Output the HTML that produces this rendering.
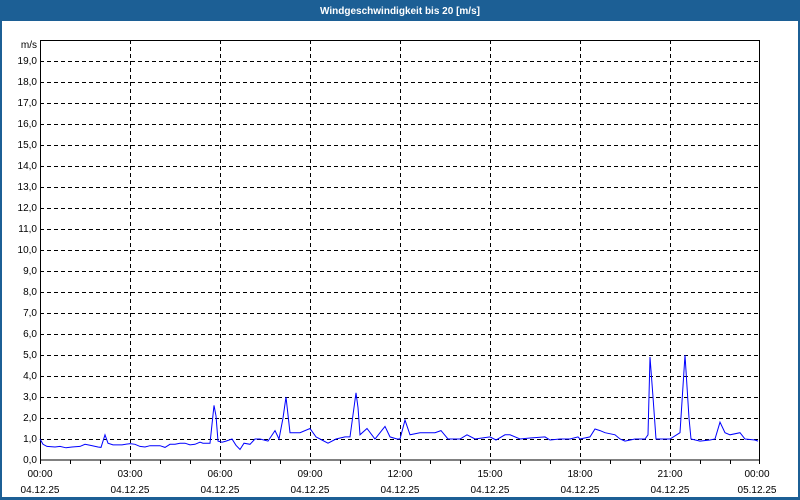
<!DOCTYPE html>
<html><head><meta charset="utf-8"><style>
html,body{margin:0;padding:0;width:800px;height:500px;overflow:hidden;background:#fff;font-family:"Liberation Sans",sans-serif;}
</style></head><body>
<svg width="800" height="500" xmlns="http://www.w3.org/2000/svg" font-family="Liberation Sans, sans-serif" font-size="10">
<rect x="0" y="0" width="800" height="500" fill="#fff"/>
<rect x="0" y="0" width="800" height="21" fill="#1c5f95"/>
<rect x="0" y="0" width="2" height="500" fill="#1c5f95"/>
<rect x="798" y="0" width="2" height="500" fill="#1c5f95"/>
<rect x="0" y="497" width="800" height="3" fill="#1c5f95"/>
<text x="400" y="14" fill="#fff" font-weight="bold" text-anchor="middle" font-size="10">Windgeschwindigkeit bis 20 [m/s]</text>
<g stroke="#000" stroke-width="1" stroke-dasharray="4,3" fill="none">
<path d="M40 439.5H760M40 418.5H760M40 397.5H760M40 376.5H760M40 355.5H760M40 334.5H760M40 313.5H760M40 292.5H760M40 271.5H760M40 250.5H760M40 229.5H760M40 208.5H760M40 187.5H760M40 166.5H760M40 145.5H760M40 124.5H760M40 103.5H760M40 82.5H760M40 61.5H760"/>
<path d="M130.5 40V460M220.5 40V460M310.5 40V460M400.5 40V460M490.5 40V460M580.5 40V460M670.5 40V460"/>
</g>
<rect x="40.5" y="40.5" width="719" height="419.5" fill="none" stroke="#000"/>
<g stroke="#000"><path d="M40.5 460V464M70.5 460V464M100.5 460V464M130.5 460V464M160.5 460V464M190.5 460V464M220.5 460V464M250.5 460V464M280.5 460V464M310.5 460V464M340.5 460V464M370.5 460V464M400.5 460V464M430.5 460V464M460.5 460V464M490.5 460V464M520.5 460V464M550.5 460V464M580.5 460V464M610.5 460V464M640.5 460V464M670.5 460V464M700.5 460V464M730.5 460V464M759.5 460V464"/></g>
<g text-anchor="end" fill="#000">
<text x="37" y="48">m/s</text>
<text x="37" y="64">19,0</text><text x="37" y="85">18,0</text><text x="37" y="106">17,0</text><text x="37" y="127">16,0</text><text x="37" y="148">15,0</text><text x="37" y="169">14,0</text><text x="37" y="190">13,0</text><text x="37" y="211">12,0</text><text x="37" y="232">11,0</text><text x="37" y="253">10,0</text><text x="37" y="274">9,0</text><text x="37" y="295">8,0</text><text x="37" y="316">7,0</text><text x="37" y="337">6,0</text><text x="37" y="358">5,0</text><text x="37" y="379">4,0</text><text x="37" y="400">3,0</text><text x="37" y="421">2,0</text><text x="37" y="442">1,0</text><text x="37" y="463">0,0</text>
</g>
<g text-anchor="middle" fill="#000">
<text x="40" y="477">00:00</text><text x="40" y="493">04.12.25</text>
<text x="130" y="477">03:00</text><text x="130" y="493">04.12.25</text>
<text x="220" y="477">06:00</text><text x="220" y="493">04.12.25</text>
<text x="310" y="477">09:00</text><text x="310" y="493">04.12.25</text>
<text x="400" y="477">12:00</text><text x="400" y="493">04.12.25</text>
<text x="490" y="477">15:00</text><text x="490" y="493">04.12.25</text>
<text x="580" y="477">18:00</text><text x="580" y="493">04.12.25</text>
<text x="670" y="477">21:00</text><text x="670" y="493">04.12.25</text>
<text x="757" y="477">00:00</text><text x="757" y="493">05.12.25</text>
</g>
<polyline fill="none" stroke="#0000ff" stroke-width="1" points="40,439 43,444.3 47,446.4 55,447 60,446.4 66,447.8 72,447 80,446.4 85,444.3 90,445.3 98,447 101,447.4 105,434.8 108,443.2 113,444.9 122,444.9 130,443.6 135,444.3 140,446.4 145,447 150,445.7 160,445.7 165,447.4 170,444.3 175,444.3 180,443.2 185,443.2 190,444.9 195,444.3 200,442.2 203,443.2 210,443.2 214,405.4 216,415.9 218,441.1 222,442.2 226,441.1 232,439 236,445.3 240,449.5 244,443.2 250,444.3 255,439 260,439 268,441.1 275,430.6 279,439 283,418 286,397 290,432.7 300,432.7 310,428.5 316,436.9 320,439 328,443.2 336,439 345,436.9 350,436.9 356,392.8 358,407.5 360,434.8 367,428.5 375,439 385,426.4 390,436.9 397,439 400,439 405,420.1 410,434.8 420,432.7 435,432.7 441,430.6 448,439 460,439 467,434.8 475,439 490,436.9 496,440 505,434.8 510,434.8 520,439 530,438 545,436.9 550,440 560,439 565,439 570,439 578,436.9 580,439 590,436.9 595,429 600,430.6 605,432.7 615,434.8 620,439 625,441.1 635,439 645,439 648,434.8 650,357 653,397 656,439 670,439 680,432.7 685,355 689,418 691,439 700,441.1 710,440 715,439 720,422.2 725,432.7 730,434.8 740,432.7 745,439 755,440 758,441.1"/>
</svg>
</body></html>
